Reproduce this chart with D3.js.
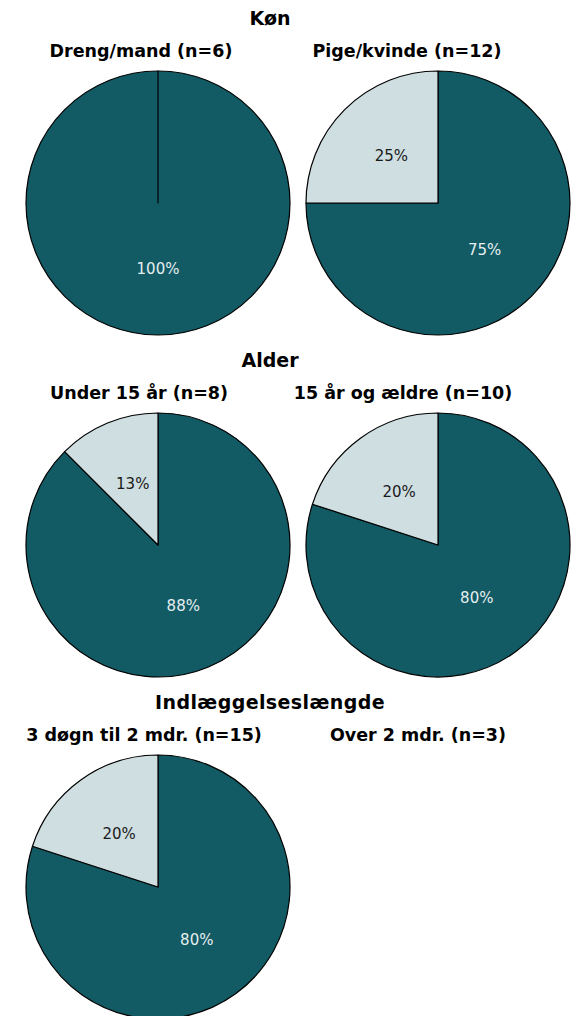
<!DOCTYPE html>
<html>
<head>
<meta charset="utf-8">
<script src="https://cdn.jsdelivr.net/npm/d3@7"></script>
<style>
  body { margin: 0; background: #fff; }
  svg text { font-family: "DejaVu Sans", Verdana, sans-serif; }
</style>
</head>
<body>
<svg class="chart" width="580" height="1016"></svg>
<script>
// groups (one row each)
const groups = ["Køn", "Alder", "Indlæggelseslængde"];

// two panels per row
const panelTitles = [
  ["Dreng/mand (n=6)", "Pige/kvinde (n=12)"],
  ["Under 15 år (n=8)", "15 år og ældre (n=10)"],
  ["3 døgn til 2 mdr. (n=15)", "Over 2 mdr. (n=3)"]
];

// share in the dark category, percent (null = no pie shown)
const darkShare = [
  [100, 75],
  [87.5, 80],
  [80, null]
];

// share in the light category, percent
const lightShare = [
  [0, 25],
  [12.5, 20],
  [20, null]
];

const colors = ["#125a64", "#cfdee0"];
const labelColors = ["#e4eef0", "#1a1a1a"];

const R = 132;
const rowStep = 342;

// panel titles sit a bit left of the pie centres
const titleX = [[141, 407], [139, 403], [144, 418]];

const svg = d3.select(".chart");

const x = d3.scaleOrdinal().domain([0, 1]).range([158, 438]);

const pie = d3.pie().sort(null).value(d => d);
const arc = d3.arc().innerRadius(0).outerRadius(R);

groups.forEach((g, i) => {

    const row = svg.append("g").attr("transform", `translate(0,${i * rowStep})`);

    row.append("text")
        .attr("x", 270)
        .attr("y", 25)
        .attr("text-anchor", "middle")
        .attr("font-size", 19)
        .attr("font-weight", "bold")
        .attr("letter-spacing", i == 2 ? 0.4 : 0)
        .text(g);

    panelTitles[i].forEach((t, j) => {

        row.append("text")
            .attr("x", titleX[i][j])
            .attr("y", 57)
            .attr("text-anchor", "middle")
            .attr("font-size", 17.5)
            .attr("font-weight", "bold")
            .text(t);

        if (darkShare[i][j] == null) return;

        const vals = [darkShare[i][j], lightShare[i][j]];
        const slices = pie(vals);

        const p = row.append("g").attr("transform", `translate(${x(j)},203)`);

        p.selectAll("path")
            .data(slices)
            .join("path")
            .attr("d", arc)
            .attr("fill", (d, k) => colors[k])
            .attr("stroke", "#000")
            .attr("stroke-width", 1.2)
            .attr("stroke-linejoin", "round");

        p.selectAll("text")
            .data(slices.filter(d => d.value > 0))
            .join("text")
            .attr("transform", d => `translate(${arc.centroid(d)})`)
            .attr("text-anchor", "middle")
            .attr("dominant-baseline", "central")
            .attr("font-size", 15)
            .attr("fill", d => labelColors[d.index])
            .text(d => Math.round(d.value) + "%");

    });

});
</script>
</body>
</html>
